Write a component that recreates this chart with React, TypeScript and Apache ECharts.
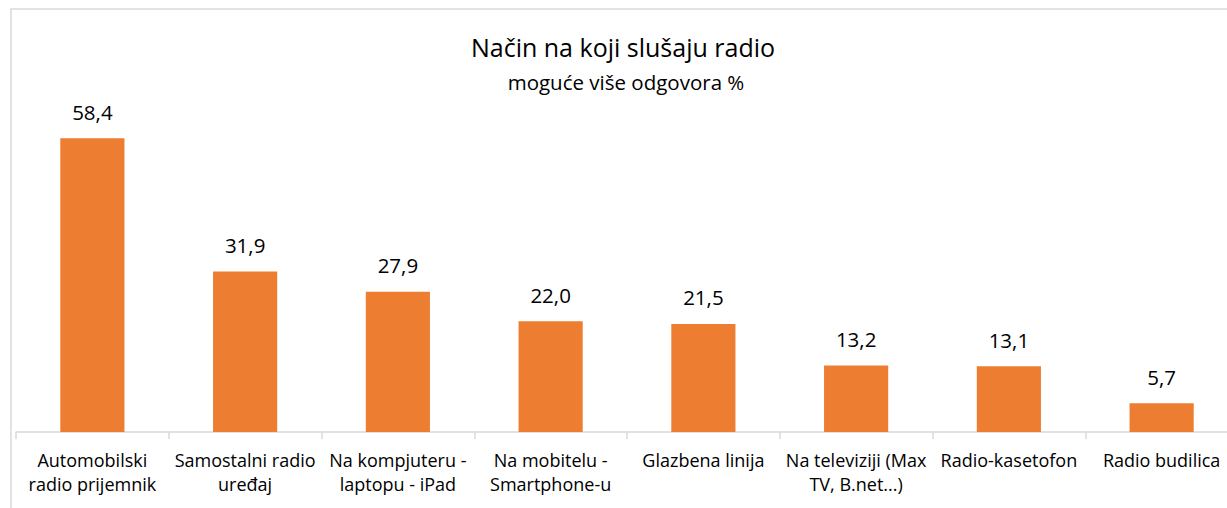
import React, { useEffect, useRef } from "react";
import * as echarts from "echarts";

const categories = [
  "Automobilski\nradio prijemnik",
  "Samostalni radio\nuređaj",
  "Na kompjuteru -\nlaptopu - iPad",
  "Na mobitelu -\nSmartphone-u",
  "Glazbena linija",
  "Na televiziji (Max\nTV, B.net...)",
  "Radio-kasetofon",
  "Radio budilica",
];
const values = [58.4, 31.9, 27.9, 22.0, 21.5, 13.2, 13.1, 5.7];
const titleText = "Način na koji slušaju radio";
const subtitleText = "moguće više odgovora %";

const FONT = "Open Sans";

export default function App() {
  const ref = useRef<HTMLDivElement>(null);
  useEffect(() => {
    if (!ref.current) return;
    const chart = echarts.init(ref.current, null, { renderer: "svg" });
    chart.setOption({
      animation: false,
      backgroundColor: "#ffffff",
      graphic: [
        {
          type: "rect",
          shape: { x: 11, y: 9, width: 1400, height: 700 },
          style: { fill: "none", stroke: "#d9d9d9", lineWidth: 1.5 },
          silent: true,
        },
        {
          type: "text",
          x: 623,
          y: 47,
          style: {
            text: titleText,
            fontFamily: FONT,
            fontSize: 25,
            fill: "#000",
            align: "center",
            verticalAlign: "middle",
          },
        },
        {
          type: "text",
          x: 626,
          y: 82,
          style: {
            text: subtitleText,
            fontFamily: FONT,
            fontSize: 20.5,
            fill: "#000",
            align: "center",
            verticalAlign: "middle",
          },
        },
      ],
      grid: { left: 16, top: 80, width: 1222, height: 352, containLabel: false },
      xAxis: {
        type: "category",
        data: categories,
        axisLine: { lineStyle: { color: "#d9d9d9", width: 1.5 } },
        axisTick: { show: true, length: 7, lineStyle: { color: "#d9d9d9", width: 1.5 } },
        axisLabel: {
          interval: 0,
          margin: 16,
          color: "#000",
          fontFamily: FONT,
          fontSize: 18,
          lineHeight: 24,
        },
      },
      yAxis: {
        type: "value",
        min: 0,
        max: 70,
        show: false,
        splitLine: { show: false },
      },
      series: [
        {
          type: "bar",
          data: values,
          barWidth: "42%",
          itemStyle: { color: "#ED7D31" },
          label: {
            show: true,
            position: "top",
            distance: 16,
            color: "#000",
            fontFamily: FONT,
            fontSize: 20.5,
            formatter: (p: any) => p.value.toFixed(1).replace(".", ","),
          },
        },
      ],
    });
    return () => chart.dispose();
  }, []);
  return (
    <div
      ref={ref}
      style={{ position: "fixed", left: 0, top: 0, width: 1240, height: 508 }}
    />
  );
}
